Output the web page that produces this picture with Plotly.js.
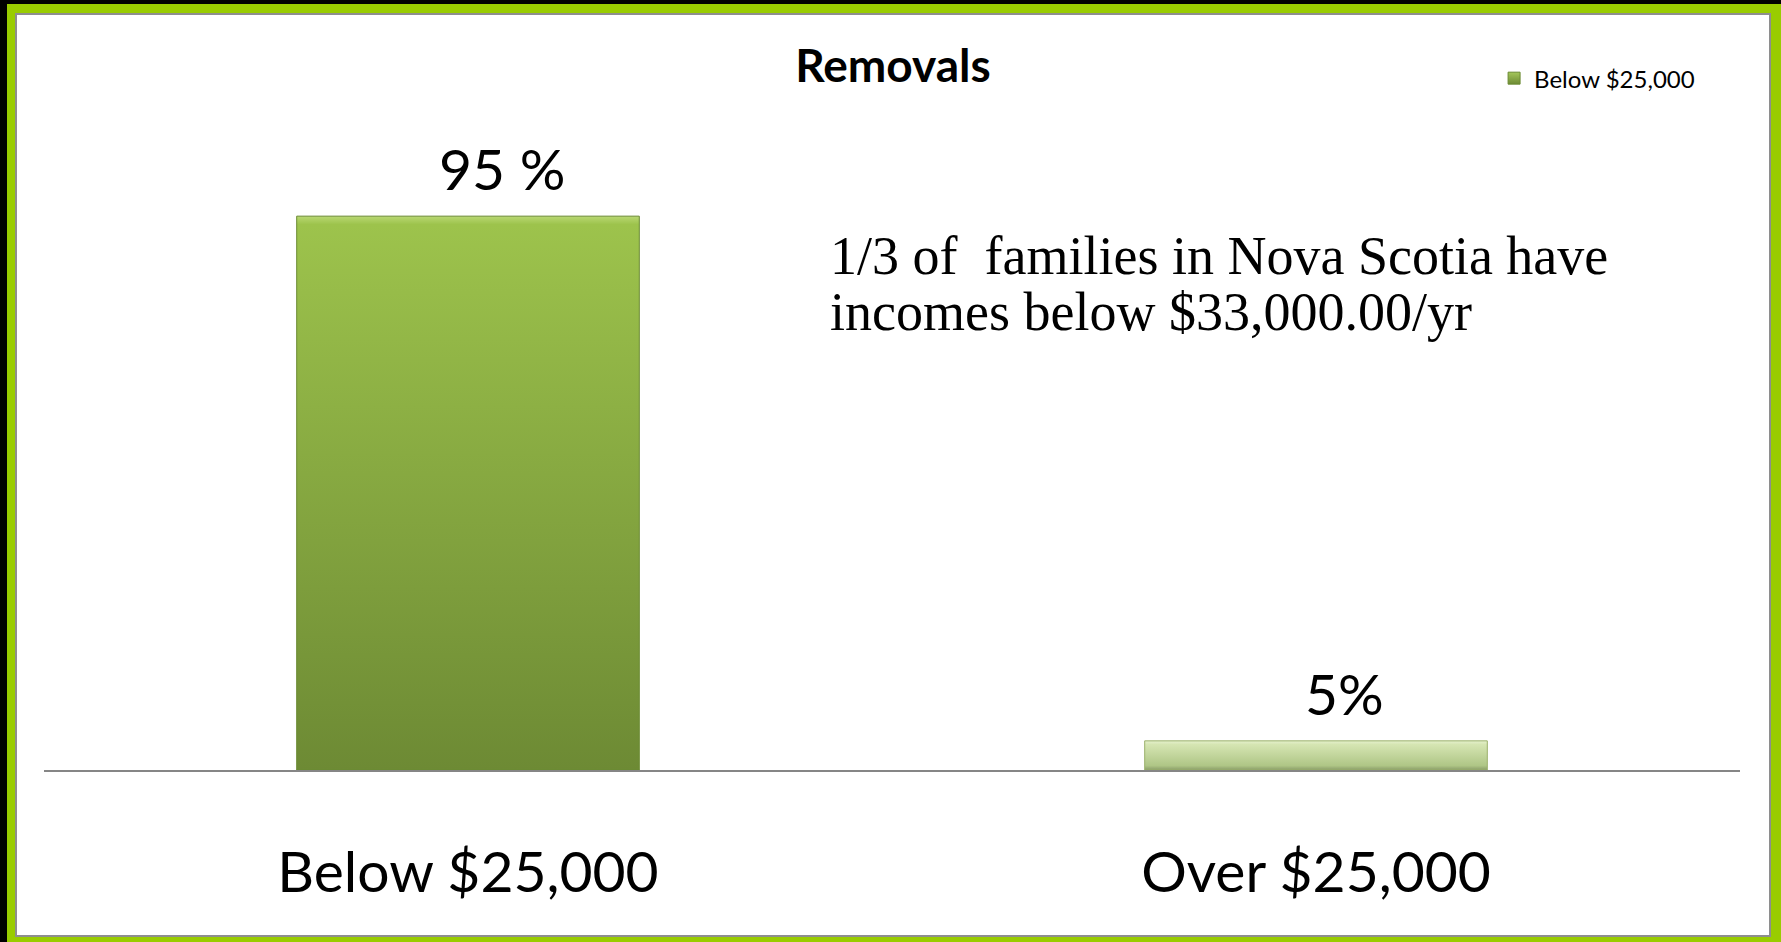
<!DOCTYPE html>
<html>
<head>
<meta charset="utf-8">
<script src="https://cdn.plot.ly/plotly-3.0.1.min.js"></script>
<style>
  html, body { margin: 0; padding: 0; background: #000; width: 1781px; height: 942px; overflow: hidden; }
  #frame { position: absolute; left: 7px; top: 4px; width: 1774px; height: 938px; background: #99cc00; }
  #chart { position: absolute; left: 15px; top: 13px; width: 1752px; height: 920px; border: 2px solid #8e8e8e; background: #fff; }
</style>
</head>
<body>
<div id="frame"></div>
<div id="chart"></div>
<script>
// ---- data ----
const categories = ["Below $25,000", "Over $25,000"];
const values = [95, 5];
const dataLabels = ["95 %", "5%"];
const seriesName = "Below $25,000";
const chartTitle = "Removals";
const noteLines = ["1/3 of  families in Nova Scotia have", "incomes below $33,000.00/yr"];

// ---- styles ----
const barColors = ["#86a840", "#c2d79a"];
const barLineColors = ["#6b8a32", "#9ab06a"];
const sans = "Lato, 'Open Sans', sans-serif";
const serif = "'Liberation Serif', 'DejaVu Serif', serif";

const trace = {
  type: "bar",
  name: seriesName,
  x: categories,
  y: values,
  marker: { color: barColors, line: { color: barLineColors, width: 1 } },
  hoverinfo: "none",
  showlegend: true
};

const annotations = [];
const labelShift = [34, 28];
categories.forEach((c, i) => {
  annotations.push({
    xref: "x", yref: "y", x: c, y: values[i],
    text: dataLabels[i], showarrow: false,
    xanchor: "center", yanchor: "bottom", xshift: labelShift[i], yshift: 12,
    font: { family: sans, size: 57, color: "#000" }
  });
});
const noteY = [0.882, 0.786];
noteLines.forEach((t, i) => {
  annotations.push({
    xref: "paper", yref: "paper", x: 0.4622, y: noteY[i],
    xanchor: "left", yanchor: "middle", showarrow: false, text: t,
    font: { family: serif, size: 54, color: "#000" }
  });
});

const layout = {
  width: 1752, height: 920,
  margin: { l: 27, r: 29, t: 172, b: 165, pad: 0 },
  paper_bgcolor: "#fff", plot_bgcolor: "#fff",
  title: {
    text: chartTitle, xref: "container", x: 0.5, xanchor: "center",
    yref: "container", y: 1 - 50.5 / 920, yanchor: "middle",
    font: { family: sans, size: 46, color: "#000", weight: "bold" }
  },
  xaxis: {
    type: "category", showline: true, linecolor: "#868686", linewidth: 2,
    showgrid: false, zeroline: false, ticks: "",
    tickfont: { family: sans, size: 57, color: "#000" },
    ticklabelstandoff: 52, fixedrange: true
  },
  yaxis: { range: [0, 100], visible: false, fixedrange: true },
  bargap: 0.596,
  showlegend: true,
  legend: {
    x: 0.855, xanchor: "left", y: 1.186, yanchor: "middle",
    font: { family: sans, size: 24, color: "#000" }, bgcolor: "rgba(0,0,0,0)"
  },
  annotations: annotations
};

Plotly.newPlot("chart", [trace], layout, { displayModeBar: false, staticPlot: true }).then(gd => {
  const NS = "http://www.w3.org/2000/svg";
  const svg = gd.querySelector(".main-svg");
  let defs = svg.querySelector("defs");
  if (!defs) { defs = document.createElementNS(NS, "defs"); svg.insertBefore(defs, svg.firstChild); }
  function grad(id, stops) {
    const g = document.createElementNS(NS, "linearGradient");
    g.setAttribute("id", id);
    g.setAttribute("x1", "0"); g.setAttribute("y1", "0");
    g.setAttribute("x2", "0"); g.setAttribute("y2", "1");
    stops.forEach(([o, c]) => {
      const s = document.createElementNS(NS, "stop");
      s.setAttribute("offset", o); s.setAttribute("stop-color", c);
      g.appendChild(s);
    });
    defs.appendChild(g);
  }
  grad("gBar0", [["0", "#b9d873"], ["0.015", "#9dc34c"], ["1", "#6d8a34"]]);
  grad("gBar1", [["0", "#e6f1cf"], ["0.12", "#d6e6b3"], ["0.85", "#afc686"], ["1", "#8a9d68"]]);
  grad("gLeg", [["0", "#a4c75a"], ["1", "#6d8a34"]]);
  const pts = gd.querySelectorAll(".barlayer .point path");
  pts.forEach((p, i) => { p.style.fill = "url(#gBar" + i + ")"; });
  gd.querySelectorAll(".legendpoints path").forEach(p => { p.style.fill = "url(#gLeg)"; });
});
</script>
</body>
</html>
